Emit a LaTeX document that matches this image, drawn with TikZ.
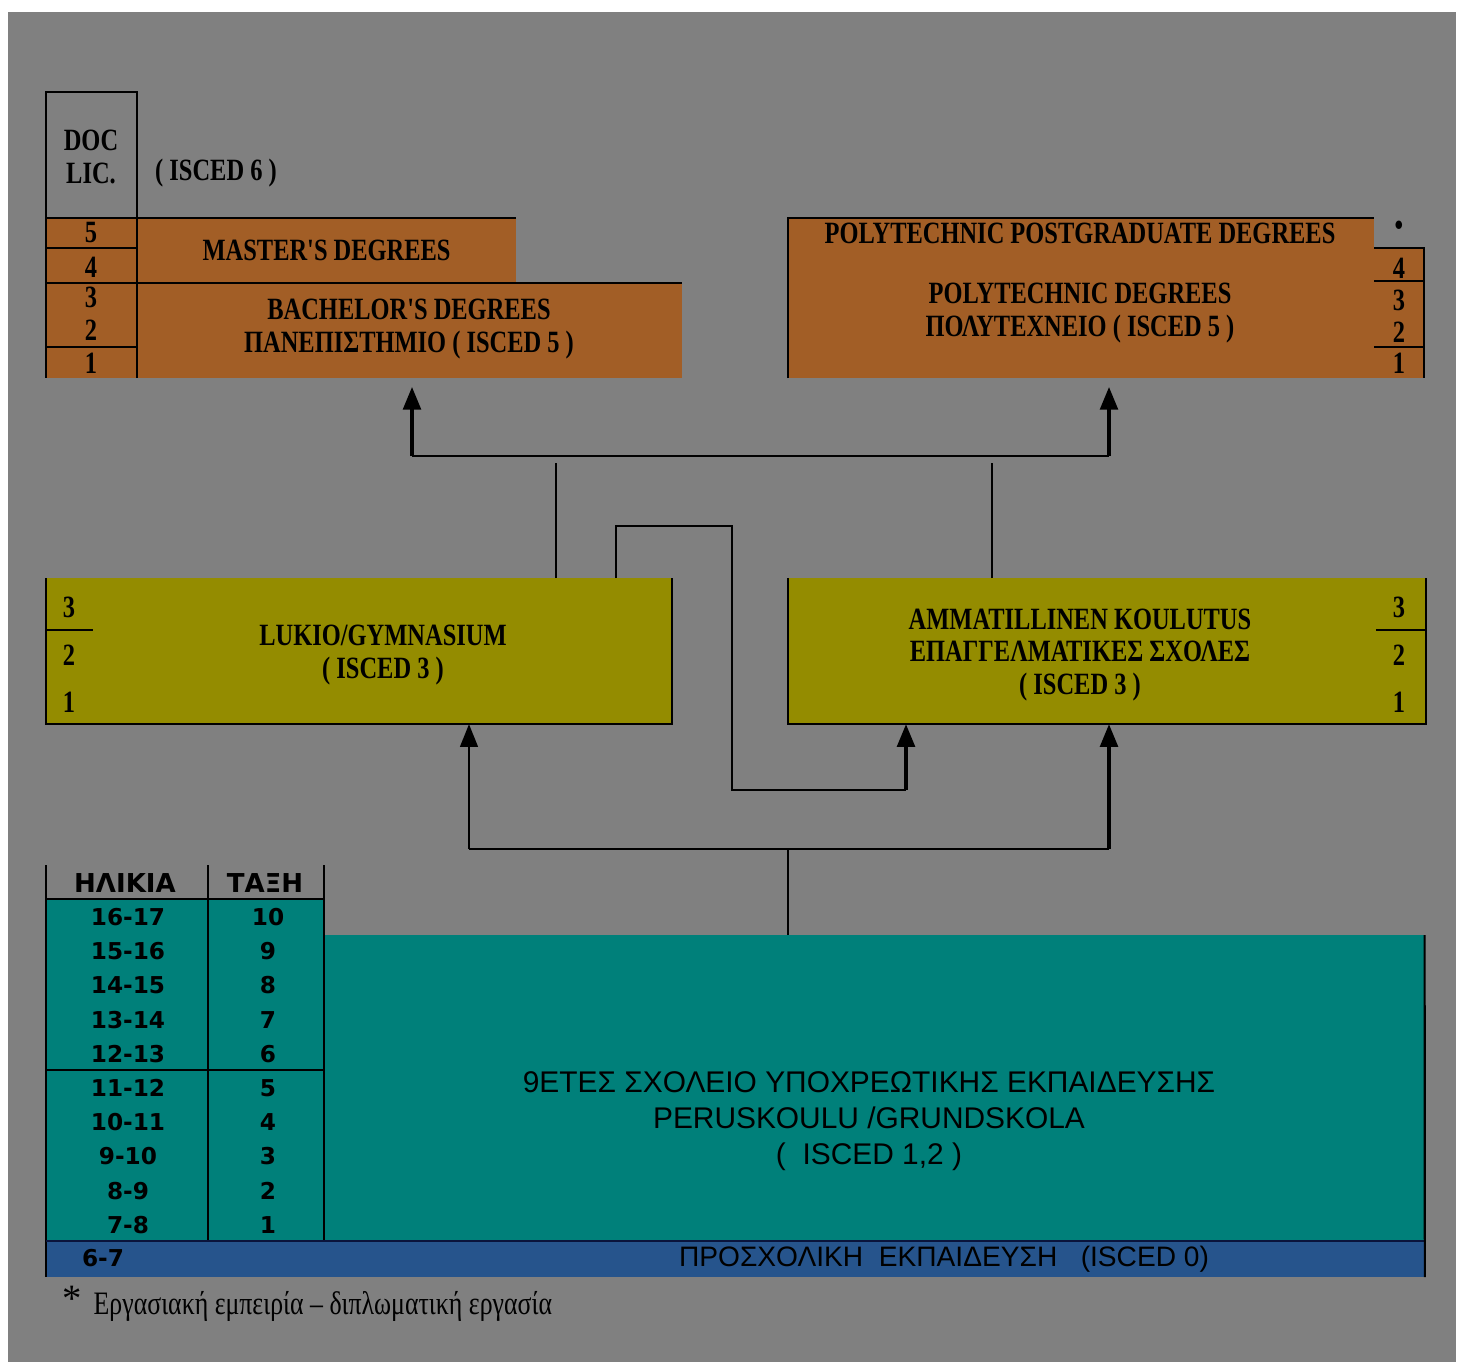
\documentclass[tikz,border=0pt]{standalone}
\usepackage{fontspec}
\setmainfont{Liberation Serif}
\newfontfamily\condserif[FakeStretch=0.79]{Liberation Serif}
\newfontfamily\plainsans{Liberation Sans}
\newfontfamily\tabsans{DejaVu Sans}
\usetikzlibrary{arrows.meta}

\definecolor{bgrey}{RGB}{128,128,128}
\definecolor{unicol}{RGB}{162,94,38}
\definecolor{seccol}{RGB}{148,140,0}
\definecolor{basiccol}{RGB}{0,128,122}
\definecolor{precol}{RGB}{38,84,140}
\definecolor{navyline}{RGB}{10,20,60}

\begin{document}
\begin{tikzpicture}[x=0.01cm,y=-0.01cm,
                    box/.style={inner sep=0pt,outer sep=0pt,anchor=north west},
                    uni box/.style={box,fill=unicol},
                    sec box/.style={box,fill=seccol},
                    edge/.style={line width=0.6pt,black},
                    lbl/.style={font=\condserif\bfseries\fontsize{8.8}{9.3}\selectfont,align=center,inner sep=0pt},
                    sanslbl/.style={font=\plainsans\fontsize{8.5}{10.3}\selectfont,align=center,inner sep=0pt},
                    tabnum/.style={font=\tabsans\bfseries\fontsize{6.6}{8}\selectfont,inner sep=0pt},
                    tabhead/.style={font=\tabsans\bfseries\fontsize{7.4}{8}\selectfont,inner sep=0pt},
                    link/.style={line width=0.7pt},
                    arr/.style={line width=1.1pt,-{Triangle[length=6.5pt,width=5pt]}},
                    thinarr/.style={line width=0.75pt,-{Triangle[length=6.5pt,width=5pt]}}]
  \useasboundingbox (0,0) rectangle (1464,1364);
  \fill[white] (0,0) rectangle (1464,1364);
  \fill[bgrey] (8,12) rectangle (1456,1362);

  % university and polytechnic
  \node[uni box,minimum width=0.91cm,minimum height=1.60cm] (years) at (46,218) {};
  \node[uni box,minimum width=3.79cm,minimum height=0.65cm] (master) at (137,218) {};
  \node[uni box,minimum width=5.45cm,minimum height=0.95cm] (bach) at (137,283) {};
  \node[uni box,minimum width=5.86cm,minimum height=1.60cm] (poly) at (788,218) {};
  \node[uni box,minimum width=0.50cm,minimum height=1.30cm] (polyyears) at (1374,248) {};

  \draw[edge] (46,378) -- (46,92) -- (137,92) -- (137,378);
  \draw[edge] (46,218) -- (master.north east);
  \draw[edge] (46,248) -- (137,248);
  \draw[edge] (46,283) -- (bach.north east);
  \draw[edge] (46,347) -- (137,347);
  \draw[edge] (poly.south west) -- (poly.north west) -- (poly.north east);
  \draw[edge] (polyyears.north west) -- (polyyears.north east) -- (polyyears.south east);
  \draw[edge] (1374,281) -- (1424,281);
  \draw[edge] (1374,347) -- (1424,347);

  \node[lbl] (doc) at (91,157) {DOC\\LIC.};
  \node[lbl] (isced6) at (216,173) {( ISCED 6 )};
  \node[lbl] (masterlbl) at (master.center) {MASTER'S DEGREES};
  \node[lbl] (bachlbl) at (409,329) {BACHELOR'S DEGREES\\ΠΑΝΕΠΙΣΤΗΜΙΟ ( ISCED 5 )};
  \node[lbl] (pgradlbl) at (1080,233) {POLYTECHNIC POSTGRADUATE DEGREES};
  \node[lbl] (polylbl) at (1080,313) {POLYTECHNIC DEGREES\\ΠΟΛΥΤΕΧΝΕΙΟ ( ISCED 5 )};
  \node[lbl] (bullet) at (1399,228) {\textbullet};
  \foreach \n/\y in {5/233,4/267,3/297,2/330,1/363}
    \node[lbl] (uy\n) at (91,\y) {\n};
  \foreach \n/\y in {4/268,3/300,2/332,1/363}
    \node[lbl] (py\n) at (1399,\y) {\n};

  % upper secondary
  \node[sec box,minimum width=6.26cm,minimum height=1.46cm] (lukio) at (46,578) {};
  \node[sec box,minimum width=6.38cm,minimum height=1.46cm] (ammat) at (788,578) {};
  \draw[edge] (lukio.north west) -- (lukio.south west) -- (lukio.south east) -- (lukio.north east);
  \draw[edge] (ammat.north west) -- (ammat.south west) -- (ammat.south east) -- (ammat.north east);
  \draw[edge] (46,630) -- (93,630);
  \draw[edge] (1376,630) -- (1426,630);

  \node[lbl] (lukiolbl) at (383,655) {LUKIO/GYMNASIUM\\( ISCED 3 )};
  \node[lbl] (ammatlbl) at (1080,655) {AMMATILLINEN KOULUTUS\\ΕΠΑΓΓΕΛΜΑΤΙΚΕΣ ΣΧΟΛΕΣ\\( ISCED 3 )};
  \foreach \n/\y in {3/607,2/655,1/702} {
    \node[lbl] (ly\n) at (69,\y) {\n};
    \node[lbl] (ay\n) at (1399,\y) {\n};
  }

  % basic education
  \node[box,fill=basiccol,minimum width=2.78cm,minimum height=3.42cm] (table) at (46,899) {};
  \node[box,fill=basiccol,minimum width=11cm,minimum height=3.06cm] (basic) at (324,935) {};
  \node[box,fill=precol,minimum width=13.78cm,minimum height=0.36cm] (pre) at (46,1241) {};
  \draw[edge] (46,865) -- (pre.south west);
  \draw[edge] (208,865) -- (208,1241);
  \draw[edge] (324,865) -- (324,1241);
  \draw[edge] (46,899) -- (324,899);
  \draw[edge] (46,1070) -- (324,1070);
  \draw[edge,navyline] (pre.north west) -- (pre.north east);
  \draw[edge] (basic.north east) -- (pre.south east);

  \node[tabhead] (agehead) at (125,883) {ΗΛΙΚΙΑ};
  \node[tabhead] (gradehead) at (265,883) {ΤΑΞΗ};
  \foreach \a/\g [count=\k from 0] in {16-17/10,15-16/9,14-15/8,13-14/7,12-13/6,11-12/5,10-11/4,9-10/3,8-9/2,7-8/1} {
    \node[tabnum] (age\k) at (128,{917+34.2*\k}) {\a};
    \node[tabnum] (grade\k) at (268,{917+34.2*\k}) {\g};
  }
  \node[tabnum] (age67) at (103,1258) {6-7};
  \node[sanslbl] (basiclbl) at (869,1121) {9ΕΤΕΣ ΣΧΟΛΕΙΟ ΥΠΟΧΡΕΩΤΙΚΗΣ ΕΚΠΑΙΔΕΥΣΗΣ\\PERUSKOULU /GRUNDSKOLA\\(\ \ ISCED 1,2 )};
  \node[sanslbl,font=\plainsans\fontsize{8}{9}\selectfont] (prelbl) at (944,1259) {ΠΡΟΣΧΟΛΙΚΗ\ \ ΕΚΠΑΙΔΕΥΣΗ\ \ \ (ISCED 0)};

  % connectors
  \coordinate (uniL) at (412,456);
  \coordinate (uniR) at (1109,456);
  \draw[link] (uniL) -- (uniR);
  \draw[arr,shorten >=2.5pt] (uniL) -- (uniL |- bach.south);
  \draw[arr,shorten >=2.5pt] (uniR) -- (uniR |- poly.south);
  \coordinate (lukUp) at (556,463);
  \draw[link] (lukUp |- lukio.north) -- (lukUp);
  \coordinate (ammUp) at (992,463);
  \draw[link] (ammUp |- ammat.north) -- (ammUp);

  \coordinate (cross1) at (616,526);
  \coordinate (cross2) at (732,526);
  \coordinate (cross3) at (732,790);
  \coordinate (cross4) at (906,790);
  \draw[link] (cross1 |- lukio.north) -- (cross1) -- (cross2) -- (cross3) -- (cross4);
  \draw[arr] (cross4) -- (cross4 |- ammat.south);

  \coordinate (basUp) at (788,849);
  \coordinate (secL) at (469,849);
  \coordinate (secR) at (1109,849);
  \draw[link] (basUp |- basic.north) -- (basUp);
  \draw[link] (secL) -- (secR);
  \draw[thinarr] (secL) -- (secL |- lukio.south);
  \draw[arr] (secR) -- (secR |- ammat.south);

  % footnote
  \node[inner sep=0pt,font=\fontsize{11}{11}\selectfont] (star) at (72,1299) {*};
  \node[anchor=west,inner sep=0pt,font=\condserif\fontsize{9.3}{10}\selectfont] (note) at (93,1306) {Εργασιακή εμπειρία – διπλωματική εργασία};
\end{tikzpicture}
\end{document}
